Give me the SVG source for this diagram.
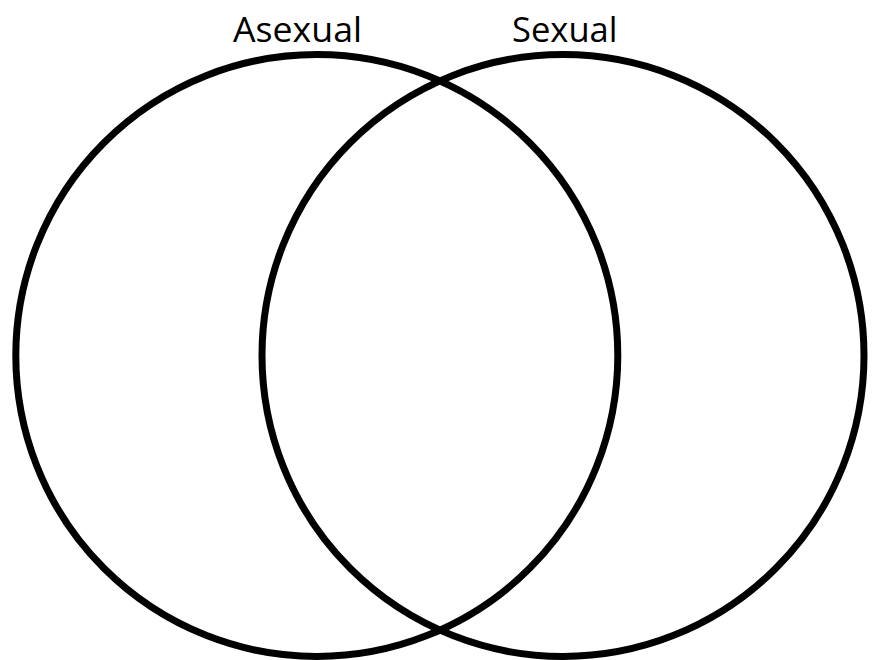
<svg xmlns="http://www.w3.org/2000/svg" width="877" height="660" viewBox="0 0 877 660">
<style>
.set{fill:none;stroke:#000;stroke-width:7}
.lbl{font-family:"Open Sans","Liberation Sans",sans-serif;font-size:35.5px;fill:#000}
</style>
<rect width="877" height="660" fill="#fff"/>
<g id="asexual">
<circle class="set" cx="316.8" cy="355.5" r="301"/>
<text class="lbl" x="233" y="41.7" textLength="129" lengthAdjust="spacingAndGlyphs">Asexual</text>
</g>
<g id="sexual">
<circle class="set" cx="563" cy="355.5" r="301"/>
<text class="lbl" x="512" y="41.7" textLength="105.5" lengthAdjust="spacingAndGlyphs">Sexual</text>
</g>
<g id="connectors"></g>
</svg>
